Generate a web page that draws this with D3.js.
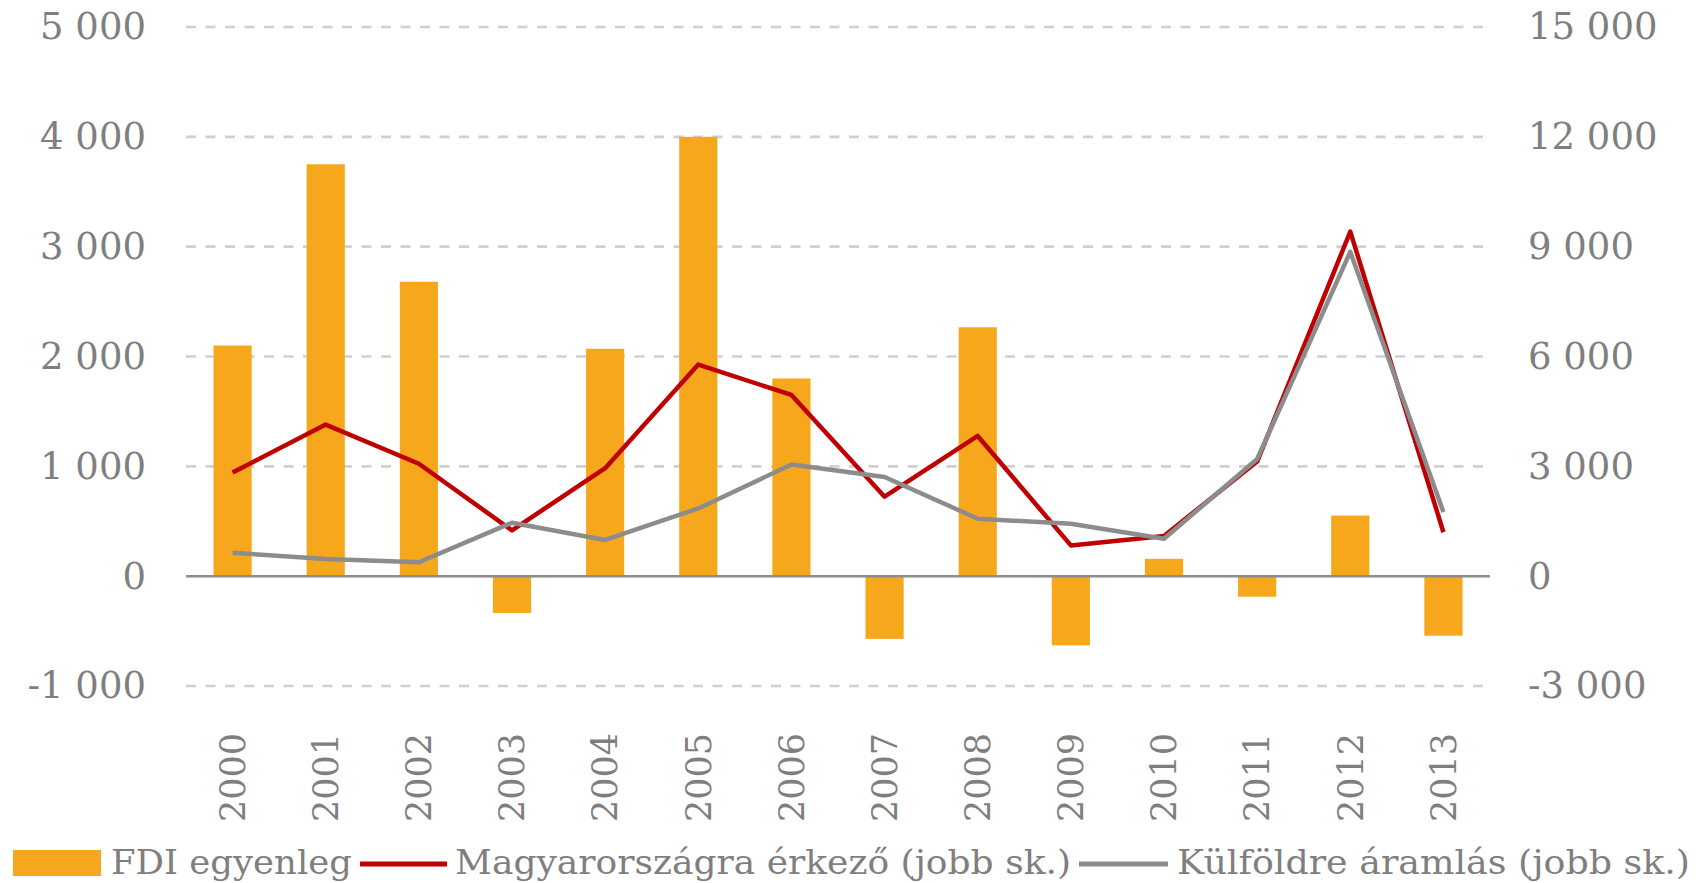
<!DOCTYPE html>
<html>
<head>
<meta charset="utf-8">
<script src="https://cdn.jsdelivr.net/npm/d3@7"></script>
<style>
  body { margin: 0; background: #fff; }
  text { font-family: "DejaVu Serif", serif; fill: #7f7f7f; }
</style>
</head>
<body>
<div id="chart"></div>
<script>
// values (millió euró)
const years = ['2000', '2001', '2002', '2003', '2004', '2005', '2006', '2007', '2008', '2009', '2010', '2011', '2012', '2013'];
const fdiBalance = [2100, 3750, 2680, -335, 2070, 4000, 1800, -571, 2266, -630, 158, -187, 552, -542];
const inflow = [2830, 4140, 3070, 1250, 2950, 5780, 4950, 2170, 3830, 840, 1100, 3130, 9410, 1200];
const outflow = [640, 470, 380, 1460, 990, 1850, 3050, 2710, 1570, 1430, 1020, 3200, 8860, 1750];
const leftTicks = [-1000, 0, 1000, 2000, 3000, 4000, 5000];
const rightTicks = [-3000, 0, 3000, 6000, 9000, 12000, 15000];
const legendLabels = ['FDI egyenleg', 'Magyarországra érkező (jobb sk.)', 'Külföldre áramlás (jobb sk.)'];

const colors = { bar: '#f7a71c', inflow: '#c00000', outflow: '#8c8c8c' };

function drawChart() {
    const width = 1696, height = 883;
    const plot = { left: 186, right: 1490, top: 27, bottom: 686 };

    const fmt = d3.formatLocale({ decimal: ',', thousands: ' ', grouping: [3], currency: ['', ''], minus: '-' }).format(',');

    const x = d3.scaleBand().domain(years).range([plot.left, plot.right])
      .paddingInner(0.59).paddingOuter(0.295);
    const yLeft = d3.scaleLinear().domain([-1000, 5000]).range([plot.bottom, plot.top]);
    const yRight = d3.scaleLinear().domain([-3000, 15000]).range([plot.bottom, plot.top]);

    const svg = d3.select('#chart').append('svg')
      .attr('width', width)
      .attr('height', height);

    // dashed gridlines
    svg.append('g')
      .selectAll('line')
      .data(leftTicks.filter(d => d !== 0))
      .join('line')
      .attr('x1', plot.left)
      .attr('x2', plot.right)
      .attr('y1', d => yLeft(d))
      .attr('y2', d => yLeft(d))
      .attr('stroke', '#d0d0d0')
      .attr('stroke-width', 2.6)
      .attr('stroke-dasharray', '10,9.5');

    // bars
    svg.append('g')
      .selectAll('rect')
      .data(years)
      .join('rect')
      .attr('x', d => x(d))
      .attr('width', x.bandwidth())
      .attr('y', (d, i) => Math.min(yLeft(fdiBalance[i]), yLeft(0)))
      .attr('height', (d, i) => Math.abs(yLeft(fdiBalance[i]) - yLeft(0)))
      .attr('fill', colors.bar);

    // zero line
    svg.append('line')
      .attr('x1', plot.left)
      .attr('x2', plot.right)
      .attr('y1', yLeft(0))
      .attr('y2', yLeft(0))
      .attr('stroke', '#8c8c8c')
      .attr('stroke-width', 2.5);

    const line = d3.line()
      .x((d, i) => x(years[i]) + x.bandwidth() / 2)
      .y(d => yRight(d));

    svg.append('path')
      .datum(inflow)
      .attr('fill', 'none')
      .attr('stroke', colors.inflow)
      .attr('stroke-width', 4.5)
      .attr('stroke-linejoin', 'round')
      .attr('d', line);

    svg.append('path')
      .datum(outflow)
      .attr('fill', 'none')
      .attr('stroke', colors.outflow)
      .attr('stroke-width', 4.5)
      .attr('stroke-linejoin', 'round')
      .attr('d', line);

    // axes
    const leftAxis = svg.append('g')
      .attr('transform', `translate(${plot.left},0)`)
      .call(d3.axisLeft(yLeft).tickValues(leftTicks).tickFormat(fmt).tickSize(0).tickPadding(40));

    const rightAxis = svg.append('g')
      .attr('transform', `translate(${plot.right},0)`)
      .call(d3.axisRight(yRight).tickValues(rightTicks).tickFormat(fmt).tickSize(0).tickPadding(38));

    const xAxis = svg.append('g')
      .attr('transform', `translate(0,${plot.bottom})`)
      .call(d3.axisBottom(x).tickSize(0));

    [leftAxis, rightAxis, xAxis].forEach(g => {
        g.select('.domain').remove();
        g.selectAll('text')
          .attr('font-family', '"DejaVu Serif", serif')
          .attr('font-size', 37)
          .attr('fill', '#7f7f7f');
    });

    xAxis.selectAll('text')
      .attr('transform', 'rotate(-90)')
      .attr('x', -47)
      .attr('y', 0)
      .attr('dy', '0.35em')
      .attr('text-anchor', 'end')
      .attr('font-size', 35);

    // legend
    const legendY = 862;
    const legend = svg.append('g');

    legend.append('rect')
      .attr('x', 13).attr('y', legendY - 12)
      .attr('width', 88).attr('height', 26)
      .attr('fill', colors.bar);

    legend.append('line')
      .attr('x1', 360).attr('x2', 447)
      .attr('y1', legendY + 2).attr('y2', legendY + 2)
      .attr('stroke', colors.inflow).attr('stroke-width', 5);

    legend.append('line')
      .attr('x1', 1079).attr('x2', 1168)
      .attr('y1', legendY + 2).attr('y2', legendY + 2)
      .attr('stroke', colors.outflow).attr('stroke-width', 5);

    const textPos = [
        { x: 111, len: 241 },
        { x: 455, len: 616 },
        { x: 1177, len: 513 }
    ];

    legend.selectAll('text')
      .data(legendLabels)
      .join('text')
      .attr('x', (d, i) => textPos[i].x)
      .attr('y', legendY)
      .attr('dy', '0.35em')
      .attr('font-size', 33)
      .attr('textLength', (d, i) => textPos[i].len)
      .attr('lengthAdjust', 'spacingAndGlyphs')
      .text(d => d);
}

drawChart();
</script>
</body>
</html>
